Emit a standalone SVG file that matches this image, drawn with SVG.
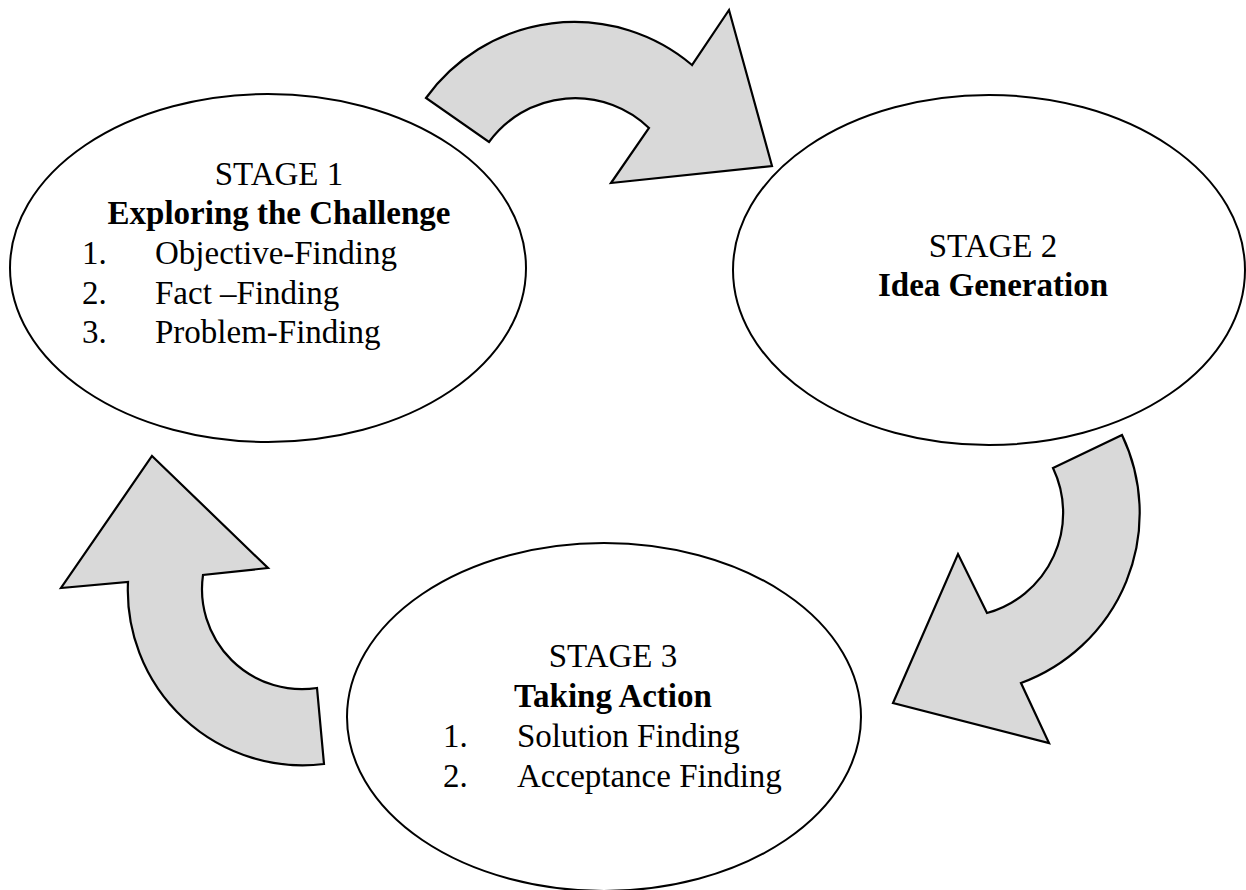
<svg xmlns="http://www.w3.org/2000/svg" width="1246" height="890" viewBox="0 0 1246 890">
<style>
.bg{fill:#ffffff}
.node{fill:#ffffff;stroke:#000000;stroke-width:2}
.arrow{fill:#d9d9d9;stroke:#000000;stroke-width:2.2;stroke-linejoin:miter}
text{font-family:"Liberation Serif","Times New Roman",serif;font-size:33px;fill:#000000}
.b{font-weight:bold}
.c{text-anchor:middle}
</style>
<rect class="bg" x="0" y="0" width="1246" height="890"/>
<g id="connectors">
<path id="arrow-1-2" class="arrow" d="M426,98 A182.6,182.6 0 0 1 692,65 L729,10 L772,166 L611,183 L649,128 A106.5,106.5 0 0 0 489,142 Z"/>
<path id="arrow-2-3" class="arrow" d="M1122,435 A181,181 0 0 1 1021,683 L1049,743 L893,703 L958,554 L987,613 A104,104 0 0 0 1053,468 Z"/>
<path id="arrow-3-1" class="arrow" d="M152,456 L268,568 L203,575 A100,100 0 0 0 317,688 L324,764 A175,175 0 0 1 128,582 L61,588 Z"/>
</g>
<g id="stage1">
<ellipse class="node" cx="268" cy="268" rx="258" ry="174"/>
<text class="c" x="279" y="185">STAGE 1</text>
<text class="c b" x="279" y="224">Exploring the Challenge</text>
<text x="82" y="264">1.</text><text x="155" y="264">Objective-Finding</text>
<text x="82" y="304">2.</text><text x="155" y="304">Fact –Finding</text>
<text x="82" y="343">3.</text><text x="155" y="343">Problem-Finding</text>
</g>
<g id="stage2">
<ellipse class="node" cx="989" cy="270" rx="256" ry="175"/>
<text class="c" x="993" y="257">STAGE 2</text>
<text class="c b" x="993" y="296">Idea Generation</text>
</g>
<g id="stage3">
<ellipse class="node" cx="604" cy="717" rx="257" ry="174"/>
<text class="c" x="613" y="667">STAGE 3</text>
<text class="c b" x="613" y="707">Taking Action</text>
<text x="443" y="747">1.</text><text x="517" y="747">Solution Finding</text>
<text x="443" y="787">2.</text><text x="517" y="787">Acceptance Finding</text>
</g>
</svg>
